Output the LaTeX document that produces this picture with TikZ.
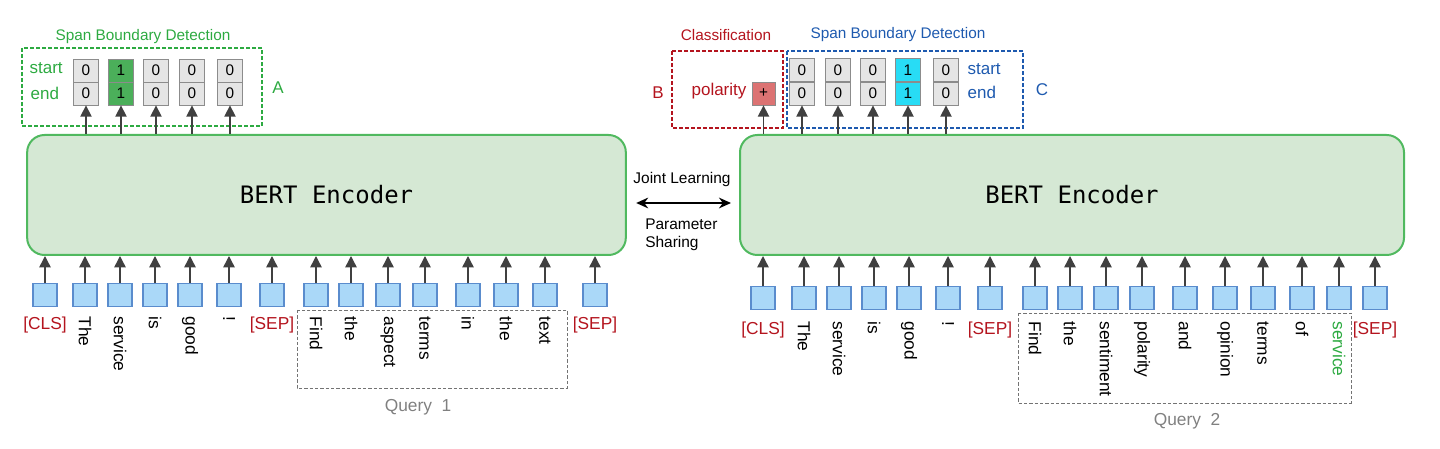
\documentclass[tikz,border=0pt]{standalone}
\usepackage{fontspec}
\setmainfont{Liberation Sans}
\setmonofont{DejaVu Sans Mono}
\usepackage{tikz}
\usetikzlibrary{arrows.meta,positioning,calc}
\usepackage{xcolor}

\definecolor{encfill}{RGB}{213,232,212}
\definecolor{encline}{RGB}{80,185,95}
\definecolor{tokfill}{RGB}{170,216,248}
\definecolor{tokline}{RGB}{90,140,205}
\definecolor{sbdgreen}{RGB}{45,170,65}
\definecolor{clsred}{RGB}{180,20,30}
\definecolor{sbdblue}{RGB}{30,90,175}
\definecolor{hitgreen}{RGB}{75,175,90}
\definecolor{hitcyan}{RGB}{40,220,245}
\definecolor{polred}{RGB}{220,115,115}

\newcommand{\fsz}[1]{\fontsize{#1}{1.2\dimexpr#1\relax}\selectfont}

\begin{document}
\begin{tikzpicture}[x=0.75pt,y=-0.75pt,
  enc/.style={draw=encline,fill=encfill,line width=1.5pt,rounded corners=13pt,minimum height=90pt,font=\ttfamily\fsz{18pt}},
  tok/.style={draw=tokline,fill=tokfill,line width=0.8pt,minimum width=18pt,minimum height=17.5pt,inner sep=0pt},
  cell/.style={draw=black!45,fill=black!10,line width=0.6pt,minimum width=18.75pt,minimum height=17.25pt,inner sep=0pt,font=\fsz{11.5pt}},
  hitA/.style={cell,fill=hitgreen},
  hitC/.style={cell,fill=hitcyan},
  up/.style={-{Triangle[width=8.5pt,length=8.5pt]},draw=black!75,line width=1.1pt},
  wrd/.style={rotate=-90,anchor=west,inner sep=1pt,font=\fsz{13pt}},
  gwrd/.style={wrd,text=sbdgreen},
  spc/.style={anchor=north,inner sep=1pt,text=clsred,font=\fsz{13pt}},
  qbox/.style={draw=black!55,dashed,dash pattern=on 2.5pt off 1.5pt,line width=0.6pt},
  grp/.style={dashed,dash pattern=on 3pt off 1.5pt,line width=0.8pt},
  ttl/.style={font=\fsz{11.5pt}},
  lbl/.style={font=\fsz{12.75pt},inner sep=1pt}]

  \useasboundingbox (0,0) rectangle (1440,449);

  % encoders
  \node[enc,minimum width=449pt] (encL) at (326.5,195) {BERT Encoder};
  \node[enc,minimum width=498pt] (encR) at (1072,195) {BERT Encoder};

  % joint learning
  \coordinate (jl) at (683,203);
  \draw[{Stealth[length=9pt,width=8pt]}-{Stealth[length=9pt,width=8pt]},line width=2pt]
    ([xshift=7pt]jl -| encL.east) -- ([xshift=-6pt]jl -| encR.west);
  \node[font=\fsz{11.6pt}] (jlt) at (682,180) {Joint Learning};
  \node[font=\fsz{11.6pt},align=left,anchor=west,inner sep=0pt] (pst) at (645,235) {Parameter\\Sharing};

  % ---- left input (sentence + query 1) ----
  \foreach \x/\w/\s [count=\i] in {45/{[CLS]}/spc, 85/The/wrd, 120/service/wrd, 155/is/wrd, 190/good/wrd, 229/!/wrd, 272/{[SEP]}/spc,
    316/Find/wrd, 351/the/wrd, 388/aspect/wrd, 425/terms/wrd, 468/in/wrd, 506/the/wrd, 545/text/wrd, 595/{[SEP]}/spc}{
    \node[tok] (l\i) at (\x,295) {};
    \draw[up] (l\i.north) -- (l\i.north |- encL.south);
    \node[\s] (lw\i) at (\x,315) {\w};
  }
  \draw[qbox] (297,310) rectangle (567,388);
  \node[text=black!50,font=\fsz{13pt}] (q1) at (418,407) {Query\ \ 1};

  % ---- right input (sentence + query 2) ----
  \foreach \x/\w/\s [count=\i] in {763/{[CLS]}/spc, 804/The/wrd, 839/service/wrd, 874/is/wrd, 909/good/wrd, 948/!/wrd, 990/{[SEP]}/spc,
    1035/Find/wrd, 1070/the/wrd, 1106/sentiment/wrd, 1142/polarity/wrd, 1185/and/wrd, 1225/opinion/wrd, 1263/terms/wrd, 1302/of/wrd,
    1339/service/gwrd, 1375/{[SEP]}/spc}{
    \node[tok] (r\i) at (\x,298) {};
    \draw[up] (r\i.north) -- (r\i.north |- encR.south);
    \node[\s] (rw\i) at (\x,320) {\w};
  }
  \draw[qbox] (1018,313) rectangle (1351,403);
  \node[text=black!50,font=\fsz{13pt}] (q2) at (1187,421) {Query\ \ 2};

  % ---- A: span boundary detection (left) ----
  \draw[grp,draw=sbdgreen] (22,48) rectangle (262,126);
  \node[ttl,text=sbdgreen] (sbdA) at (143,37) {Span Boundary Detection};
  \foreach \x/\v/\f [count=\i] in {86/0/cell, 121/1/hitA, 156/0/cell, 192/0/cell, 230/0/cell}{
    \node[\f] (as\i) at (\x,70.5) {\v};
    \node[\f] (ae\i) at (\x,93.5) {\v};
    \draw[up] (ae\i.south |- encL.north) -- (ae\i.south);
  }
  \node[lbl,text=sbdgreen,anchor=west] (stA) at (28,68) {start};
  \node[lbl,text=sbdgreen,anchor=west] (enA) at (29,93) {end};
  \node[lbl,text=sbdgreen] (A) at (278,88) {A};

  % ---- B: classification ----
  \draw[grp,draw=clsred] (672,51) rectangle (783,128);
  \node[ttl,text=clsred] (clsB) at (726,35) {Classification};
  \node[cell,fill=polred,minimum width=17.25pt] (pol) at (763.5,93.5) {+};
  \draw[up] (pol.south |- encR.north) -- (pol.south);
  \node[lbl,text=clsred,anchor=east] (polt) at (748,91) {polarity};
  \node[lbl,text=clsred] (B) at (658,93) {B};

  % ---- C: span boundary detection (right) ----
  \draw[grp,draw=sbdblue] (787,51) rectangle (1023,128);
  \node[ttl,text=sbdblue] (sbdC) at (898,35) {Span Boundary Detection};
  \foreach \x/\v/\f [count=\i] in {802/0/cell, 838/0/cell, 873/0/cell, 908/1/hitC, 946/0/cell}{
    \node[\f] (cs\i) at (\x,70) {\v};
    \node[\f] (ce\i) at (\x,93.5) {\v};
    \draw[up] (ce\i.south |- encR.north) -- (ce\i.south);
  }
  \node[lbl,text=sbdblue,anchor=west] (stC) at (966,69) {start};
  \node[lbl,text=sbdblue,anchor=west] (enC) at (966,92) {end};
  \node[lbl,text=sbdblue] (C) at (1042,90) {C};
\end{tikzpicture}
\end{document}
